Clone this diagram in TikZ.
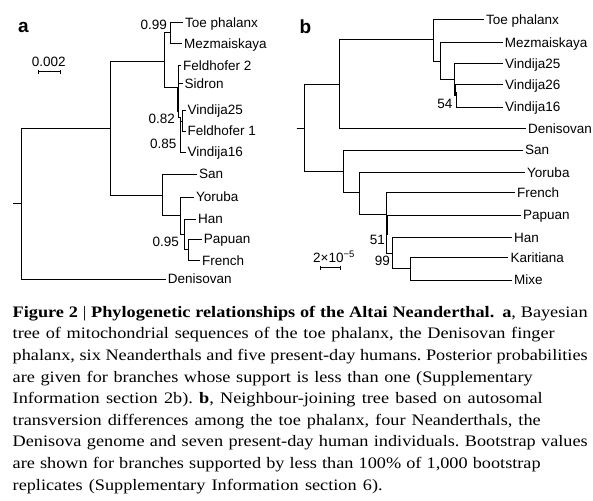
\documentclass[tikz,border=0pt]{standalone}
\usepackage{fontspec}
\setsansfont{Liberation Sans}
\newfontfamily\capfont[FakeStretch=1.14]{Liberation Serif}
\usetikzlibrary{arrows.meta}
\frenchspacing

\begin{document}
\begin{tikzpicture}[
  x=1pt, y=-1pt,
  branch/.style={line width=1pt},
  heavy/.style={line width=2pt},
  leaf/.style={anchor=west, inner sep=2pt, text height=9.7pt, text depth=0pt,
    font=\sffamily\fontsize{13.5}{14}\selectfont},
  support/.style={anchor=east, inner sep=0pt, text height=9.7pt, text depth=0pt,
    font=\sffamily\fontsize{13.5}{14}\selectfont},
  scalelab/.style={anchor=base, inner sep=0pt, font=\sffamily\fontsize{13.5}{14}\selectfont},
  panel/.style={inner sep=0pt, font=\sffamily\bfseries\fontsize{19}{20}\selectfont},
  capline/.style={anchor=base west, inner sep=0pt, font=\capfont\fontsize{16}{18}\selectfont},
  scalebar/.style={line width=1pt, {Bar[width=4pt]}-{Bar[width=4pt]}}
]
  \useasboundingbox (0,0) rectangle (593,500);

  % panel a: mitochondrial tree
  \node[panel] (labA) at (23.3,27.5) {a};
  \node[scalelab] (sclA) at (48.8,66.5) {0.002};
  \coordinate (sbA1) at (37.7,71.7);
  \coordinate (sbA2) at (60.7,71.7);
  \draw[scalebar] (sbA1) -- (sbA2);

  \coordinate (stubA) at (13,203);
  \coordinate (rootA) at (21.5,203);
  \coordinate (a1) at (110,128);
  \coordinate (a2) at (164,61.5);
  \coordinate (a3) at (162.5,195);
  \coordinate (a4) at (170,33);
  \coordinate (a5) at (178,88);
  \coordinate (a5b) at (178,112);
  \coordinate (a6) at (180,117);
  \coordinate (a7) at (182.7,121);
  \coordinate (a8) at (180,215);
  \coordinate (a9) at (184,234);
  \coordinate (a10) at (188,249);

  \node[leaf] (toeA) at (183,22.7) {Toe phalanx};
  \node[leaf] (mezA) at (182,43.3) {Mezmaiskaya};
  \node[leaf] (feld2A) at (181,66) {Feldhofer 2};
  \node[leaf] (sidA) at (182.5,84) {Sidron};
  \node[leaf] (vin25A) at (185.5,110) {Vindija25};
  \node[leaf] (feld1A) at (185.5,131) {Feldhofer 1};
  \node[leaf] (vin16A) at (185.5,152) {Vindija16};
  \node[leaf] (sanA) at (197,174) {San};
  \node[leaf] (yorA) at (194,197) {Yoruba};
  \node[leaf] (hanA) at (196,219) {Han};
  \node[leaf] (papA) at (201.7,239) {Papuan};
  \node[leaf] (freA) at (200,260.7) {French};
  \node[leaf] (denA) at (165.7,279) {Denisovan};

  \node[support] (pa1) at (167,25) {0.99};
  \node[support] (pa2) at (175,118.7) {0.82};
  \node[support] (pa3) at (176.5,143.5) {0.85};
  \node[support] (pa4) at (179,241.7) {0.95};

  \draw[branch] (stubA) -- (rootA);
  \draw[branch] (rootA) |- (a1);
  \draw[branch] (rootA) |- (denA);
  \draw[branch] (a1) |- (a2);
  \draw[branch] (a1) |- (a3);
  \draw[branch] (a2) |- (a4);
  \draw[branch] (a2) |- (a5);
  \draw[branch] (a4) |- (toeA);
  \draw[branch] (a4) |- (mezA);
  \draw[branch] (a5) |- (feld2A);
  \draw[branch] (a5) |- (sidA);
  \draw[branch] (a5) |- (a6);
  \draw[heavy] (a5) -- (a5b);
  \draw[branch] (a6) |- (a7);
  \draw[branch] (a6) |- (vin16A);
  \draw[branch] (a7) |- (vin25A);
  \draw[branch] (a7) |- (feld1A);
  \draw[branch] (a3) |- (sanA);
  \draw[branch] (a3) |- (a8);
  \draw[branch] (a8) |- (yorA);
  \draw[branch] (a8) |- (a9);
  \draw[branch] (a9) |- (hanA);
  \draw[branch] (a9) |- (a10);
  \draw[branch] (a10) |- (papA);
  \draw[branch] (a10) |- (freA);

  % panel b: neighbour-joining tree
  \node[panel] (labB) at (305.5,26.7) {b};
  \node[scalelab] (sclB) at (334,262.7) {2×10\textsuperscript{−5}};
  \coordinate (sbB1) at (320,267.7);
  \coordinate (sbB2) at (340.7,267.7);
  \draw[scalebar] (sbB1) -- (sbB2);

  \coordinate (stubB) at (296.5,128);
  \coordinate (rootB) at (304,128);
  \coordinate (b1) at (339,84.3);
  \coordinate (b2) at (433,40);
  \coordinate (b3) at (440,61.7);
  \coordinate (b4) at (454.3,80);
  \coordinate (b4t) at (455,85);
  \coordinate (b4u) at (455,96);
  \coordinate (b5) at (456,92);
  \coordinate (b6) at (343.3,171.7);
  \coordinate (b7) at (359.3,192.7);
  \coordinate (b8) at (386.7,214.5);
  \coordinate (b8t) at (386.7,235);
  \coordinate (b9) at (392.7,253.3);
  \coordinate (b10) at (410,268.3);

  \node[leaf] (toeB) at (484,20) {Toe phalanx};
  \node[leaf] (mezB) at (502.7,42.3) {Mezmaiskaya};
  \node[leaf] (vin25B) at (503,63.3) {Vindija25};
  \node[leaf] (vin26B) at (503,85) {Vindija26};
  \node[leaf] (vin16B) at (503,107) {Vindija16};
  \node[leaf] (denB) at (526,128.3) {Denisovan};
  \node[leaf] (sanB) at (523,150) {San};
  \node[leaf] (yorB) at (525,172.3) {Yoruba};
  \node[leaf] (freB) at (515,192.7) {French};
  \node[leaf] (papB) at (521,215) {Papuan};
  \node[leaf] (hanB) at (512,237.3) {Han};
  \node[leaf] (karB) at (508.3,257.7) {Karitiana};
  \node[leaf] (mixB) at (512,280) {Mixe};

  \node[support] (pb1) at (452.7,103.7) {54};
  \node[support] (pb2) at (385,240) {51};
  \node[support] (pb3) at (390,261) {99};

  \draw[branch] (stubB) -- (rootB);
  \draw[branch] (rootB) |- (b1);
  \draw[branch] (rootB) |- (b6);
  \draw[branch] (b1) |- (b2);
  \draw[branch] (b1) |- (denB);
  \draw[branch] (b2) |- (toeB);
  \draw[branch] (b2) |- (b3);
  \draw[branch] (b3) |- (mezB);
  \draw[branch] (b3) |- (b4);
  \draw[branch] (b4) |- (vin25B);
  \draw[branch] (b4) |- (vin26B);
  \draw[branch] (b4) |- (b5);
  \draw[heavy] (b4t) -- (b4u);
  \draw[branch] (b5) |- (vin16B);
  \draw[branch] (b6) |- (sanB);
  \draw[branch] (b6) |- (b7);
  \draw[branch] (b7) |- (yorB);
  \draw[branch] (b7) |- (b8);
  \draw[branch] (b8) |- (freB);
  \draw[branch] (b8) |- (papB);
  \draw[branch] (b8) |- (b9);
  \draw[heavy] (b8) -- (b8t);
  \draw[branch] (b9) |- (hanB);
  \draw[branch] (b9) |- (b10);
  \draw[branch] (b10) |- (karB);
  \draw[branch] (b10) |- (mixB);

  % caption, one node per printed line
  \node[capline] (cap1) at (12.5,317.3) {\makebox[575pt][s]{\textbf{Figure 2 {\mdseries|} Phylogenetic relationships of the Altai Neanderthal.}\enspace\textbf{a}, Bayesian}};
  \node[capline] (cap2) at (12.5,338.9) {\makebox[542pt][s]{tree of mitochondrial sequences of the toe phalanx, the Denisovan finger}};
  \node[capline] (cap3) at (12.5,360.5) {\makebox[575pt][s]{phalanx, six Neanderthals and five present-day humans. Posterior probabilities}};
  \node[capline] (cap4) at (12.5,382.1) {\makebox[520pt][s]{are given for branches whose support is less than one (Supplementary}};
  \node[capline] (cap5) at (12.5,403.7) {\makebox[530pt][s]{Information section 2b). \textbf{b}, Neighbour-joining tree based on autosomal}};
  \node[capline] (cap6) at (12.5,425.3) {\makebox[528pt][s]{transversion differences among the toe phalanx, four Neanderthals, the}};
  \node[capline] (cap7) at (12.5,446.9) {\makebox[575pt][s]{Denisova genome and seven present-day human individuals. Bootstrap values}};
  \node[capline] (cap8) at (12.5,468.5) {\makebox[528pt][s]{are shown for branches supported by less than 100\% of 1,000 bootstrap}};
  \node[capline] (cap9) at (12.5,490.1) {\makebox[370pt][s]{replicates (Supplementary Information section 6).}};
\end{tikzpicture}
\end{document}
